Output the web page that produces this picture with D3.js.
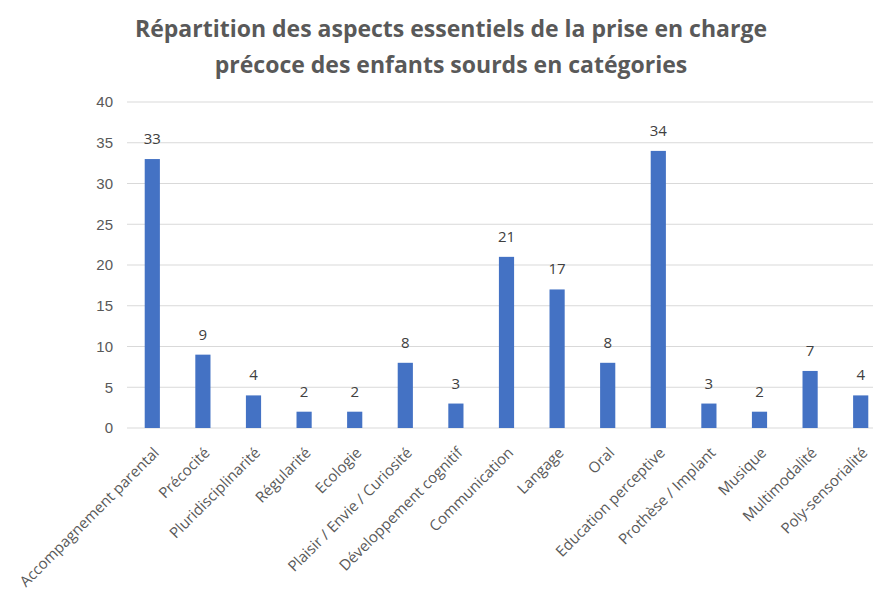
<!DOCTYPE html>
<html>
<head>
<meta charset="utf-8">
<script src="https://cdn.jsdelivr.net/npm/d3@7"></script>
<style>
  body { margin: 0; background: #fff; }
  svg { display: block; font-family: "Open Sans", sans-serif; }
</style>
</head>
<body>
<svg></svg>
<script>
const categories = ['Accompagnement parental', 'Précocité', 'Pluridisciplinarité', 'Régularité', 'Ecologie',
    'Plaisir / Envie / Curiosité', 'Développement cognitif', 'Communication', 'Langage', 'Oral',
    'Education perceptive', 'Prothèse / Implant', 'Musique', 'Multimodalité', 'Poly-sensorialité'];
const values = [33, 9, 4, 2, 2, 8, 3, 21, 17, 8, 34, 3, 2, 7, 4];
const yTicks = [0, 5, 10, 15, 20, 25, 30, 35, 40];
const titleLines = ['Répartition des aspects essentiels de la prise en charge',
    'précoce des enfants sourds en catégories'];

const size = {w: 873, h: 590};
const margin = {t: 102, l: 127, b: 162};
const svg = d3.select('svg')
    .attr('width', size.w)
    .attr('height', size.h);

// the original chart is cut on the right, so the band range runs past the edge
let x = d3.scaleBand()
    .domain(categories)
    .range([margin.l, 886])
    .paddingInner(0.7)
    .paddingOuter(0.35);

let y = d3.scaleLinear()
    .domain([0, 40])
    .range([size.h - margin.b, margin.t]);

// gridlines
svg.append('g').selectAll('line')
    .data(yTicks)
    .enter()
    .append('line')
    .attr('x1', margin.l)
    .attr('x2', size.w)
    .attr('y1', d => y(d))
    .attr('y2', d => y(d))
    .style('stroke', '#d9d9d9')
    .style('stroke-width', 1);

// y axis labels
let yAxis = svg.append('g')
    .attr('transform', `translate(${margin.l - 14},0)`)
    .call(d3.axisLeft(y).tickValues(yTicks).tickSize(0).tickPadding(0));
yAxis.select('.domain').remove();
yAxis.selectAll('text')
    .style('font-size', '15px')
    .style('fill', '#595959');

// bars
svg.append('g').selectAll('rect')
    .data(values)
    .enter()
    .append('rect')
    .attr('x', (d, i) => x(categories[i]))
    .attr('width', x.bandwidth())
    .attr('y', d => y(d))
    .attr('height', d => y(0) - y(d))
    .style('fill', '#4472c4');

// value labels
svg.append('g').selectAll('text')
    .data(values)
    .enter()
    .append('text')
    .attr('x', (d, i) => x(categories[i]) + x.bandwidth() / 2)
    .attr('y', d => y(d) - 15)
    .attr('text-anchor', 'middle')
    .style('font-size', '15px')
    .style('fill', '#404040')
    .text(d => d);

// x axis labels, rotated
svg.append('g').selectAll('text')
    .data(categories)
    .enter()
    .append('text')
    .attr('transform', d => `translate(${x(d) + x.bandwidth() / 2 + 4},${y(0) + 22}) rotate(-45)`)
    .attr('text-anchor', 'end')
    .attr('dy', '0.35em')
    .style('font-size', '15px')
    .style('fill', '#595959')
    .text(d => d);

// title
svg.append('g').selectAll('text')
    .data(titleLines)
    .enter()
    .append('text')
    .attr('x', 451)
    .attr('y', (d, i) => 37 + i * 36)
    .attr('text-anchor', 'middle')
    .style('font-size', '23px')
    .style('font-weight', 'bold')
    .style('fill', '#595959')
    .text(d => d);
</script>
</body>
</html>
